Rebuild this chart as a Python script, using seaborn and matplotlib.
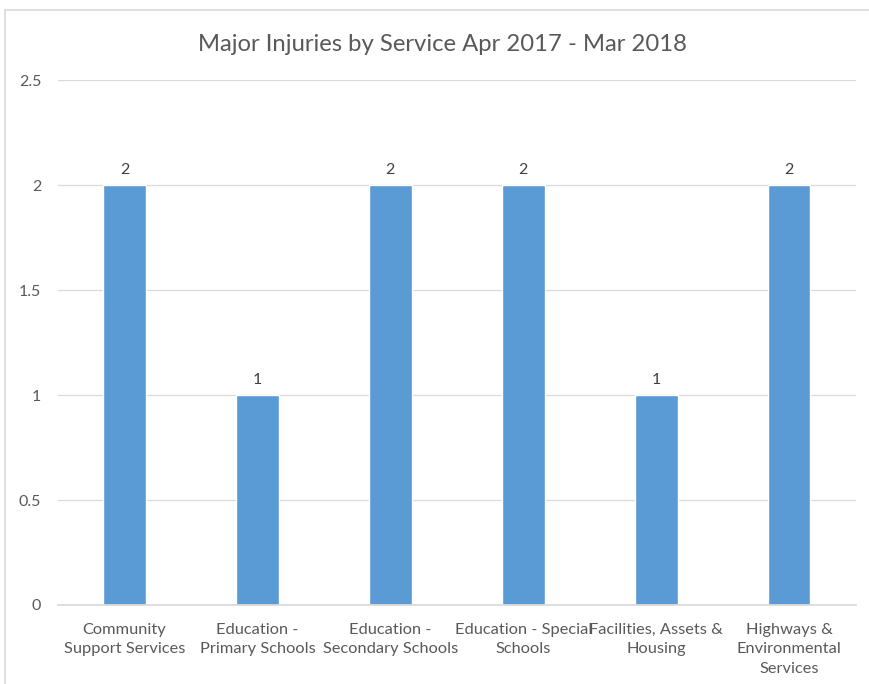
import matplotlib
matplotlib.use("Agg")
import matplotlib.pyplot as plt
import seaborn as sns
import pandas as pd
from matplotlib.patches import Rectangle

categories = ["Community\nSupport Services", "Education -\nPrimary Schools", "Education -\nSecondary Schools",
              "Education - Special\nSchools", "Facilities, Assets &\nHousing", "Highways &\nEnvironmental\nServices"]
values = [2, 1, 2, 2, 1, 2]
yticks = [0, 0.5, 1, 1.5, 2, 2.5]
ytick_labels = ["0", "0.5", "1", "1.5", "2", "2.5"]
title = "Major Injuries by Service Apr 2017 - Mar 2018"

sns.set_theme(style="white")
plt.rcParams['font.family'] = ['Lato', 'DejaVu Sans']

df = pd.DataFrame({"cat": categories, "val": values})
fig = plt.figure(figsize=(8.69, 6.84), dpi=100)
ax = fig.add_axes([0.0667, 0.1155, 0.918, 0.7675])
sns.barplot(data=df, x="cat", y="val", color="#5B9BD5", saturation=1, width=0.32, ax=ax)

ax.set_ylim(0, 2.5)
ax.set_yticks(yticks)
ax.set_yticklabels(ytick_labels, fontsize=11.5, color="#595959")
ax.set_xticklabels(categories, fontsize=11.8, color="#595959", linespacing=1.48)
ax.yaxis.grid(True, color="#D9D9D9", linewidth=0.9)
ax.set_axisbelow(True)
for s in ["top", "right", "left"]:
    ax.spines[s].set_visible(False)
ax.spines["bottom"].set_color("#D9D9D9")
ax.tick_params(axis="x", length=0, pad=13)
ax.tick_params(axis="y", length=0, pad=12)
ax.set_xlabel("")
ax.set_ylabel("")
for c in ax.containers:
    ax.bar_label(c, labels=[str(v) for v in values], padding=6, fontsize=11.5, color="#404040")

fig.text(0.509, 0.935, title, ha="center", va="center", fontsize=17.2, color="#595959")
fig.patches.append(Rectangle((5/869, -0.01), 1.0, 1 - 10/684 + 0.01, transform=fig.transFigure,
                             fill=False, edgecolor="#D9D9D9", linewidth=1.2))
fig.savefig("out.png", dpi=100)
